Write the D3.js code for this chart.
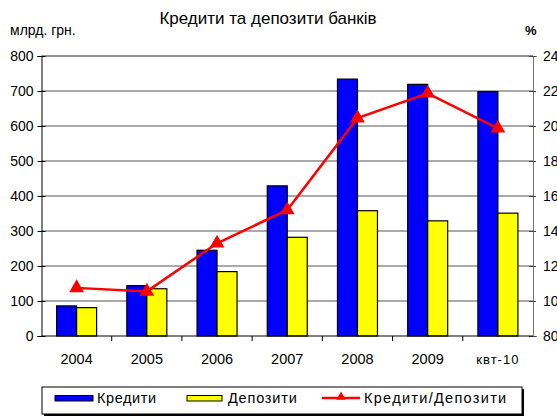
<!DOCTYPE html>
<html>
<head>
<meta charset="utf-8">
<script src="https://cdn.jsdelivr.net/npm/d3@7"></script>
<style>
  body { margin: 0; background: #fff; }
  svg { font-family: "Liberation Sans", Arial, sans-serif; }
</style>
</head>
<body>
<div id="chart"></div>
<script>
let categories = ['2004', '2005', '2006', '2007', '2008', '2009', 'квт-10'];
let credits = [86, 144, 245, 429, 734, 719, 698];
let deposits = [81, 135, 184, 282, 358, 329, 351];
let ratio = [107.5, 105.5, 133, 152, 204.5, 218.7, 198.7];
let leftTicks = [0, 100, 200, 300, 400, 500, 600, 700, 800];
let rightTicks = [80, 100, 120, 140, 160, 180, 200, 220, 240];

let W = 557, H = 417;
let margin = {top: 56, right: 24, bottom: 81, left: 41.5};
let width = W - margin.left - margin.right,
    height = H - margin.top - margin.bottom;

let svg = d3.select('#chart')
  .append('svg')
    .attr('width', W)
    .attr('height', H);

svg.append('text')
  .attr('x', 268).attr('y', 24)
  .attr('text-anchor', 'middle')
  .style('font-size', '17px')
  .text('Кредити та депозити банків');

svg.append('text')
  .attr('x', 10).attr('y', 35)
  .style('font-size', '14px')
  .text('млрд. грн.');

svg.append('text')
  .attr('x', 525).attr('y', 35)
  .style('font-size', '13px')
  .style('font-weight', 'bold')
  .text('%');

let g = svg.append('g')
  .attr('transform', `translate(${margin.left},${margin.top})`);

let x = d3.scaleBand()
  .domain(categories)
  .range([0, width]);

let y = d3.scaleLinear()
  .domain([0, 800])
  .range([height, 0]);

let y2 = d3.scaleLinear()
  .domain([80, 240])
  .range([height, 0]);

// grid
g.append('g')
  .selectAll('line')
  .data(leftTicks.slice(1))
  .enter()
  .append('line')
    .attr('x1', 0).attr('x2', width)
    .attr('y1', d => y(d)).attr('y2', d => y(d))
    .attr('stroke', d => d == 800 ? '#222' : '#555')
    .attr('stroke-width', 1);

// left axis
let yAxis = g.append('g')
  .call(d3.axisLeft(y).tickValues(leftTicks).tickSize(4).tickPadding(4));
yAxis.select('.domain').attr('stroke', '#000');
yAxis.selectAll('.tick line').attr('x2', 4).attr('x1', -4).attr('stroke', '#000');
yAxis.selectAll('text').style('font-size', '14px').attr('x', -8).attr('fill', '#000');

// right axis (labels run past the edge, as in the original)
let y2Axis = g.append('g')
  .attr('transform', `translate(${width},0)`)
  .call(d3.axisRight(y2).tickValues(rightTicks).tickSize(4));
y2Axis.select('.domain').attr('stroke', '#777');
y2Axis.selectAll('.tick line').attr('x1', -4).attr('x2', 3).attr('stroke', '#444');
y2Axis.selectAll('text').style('font-size', '14px').attr('x', 10).attr('fill', '#000');

// bars
let bw = 20;
let groups = g.append('g')
  .selectAll('g')
  .data(categories)
  .enter()
  .append('g')
    .attr('transform', d => `translate(${x(d) + x.bandwidth() / 2},0)`);

groups.append('rect')
  .attr('x', -bw)
  .attr('y', (d, i) => y(credits[i]))
  .attr('width', bw)
  .attr('height', (d, i) => height - y(credits[i]))
  .attr('fill', '#0000ff')
  .attr('stroke', '#000')
  .attr('stroke-width', 1.2);

groups.append('rect')
  .attr('x', 0)
  .attr('y', (d, i) => y(deposits[i]))
  .attr('width', bw)
  .attr('height', (d, i) => height - y(deposits[i]))
  .attr('fill', '#ffff00')
  .attr('stroke', '#000')
  .attr('stroke-width', 1.2);

// x axis
g.append('line')
  .attr('x1', 0).attr('x2', width)
  .attr('y1', height).attr('y2', height)
  .attr('stroke', '#000');

g.append('g')
  .selectAll('line')
  .data(categories.slice(1))
  .enter()
  .append('line')
    .attr('x1', d => x(d)).attr('x2', d => x(d))
    .attr('y1', height).attr('y2', height + 5)
    .attr('stroke', '#000');

g.append('g')
  .selectAll('text')
  .data(categories)
  .enter()
  .append('text')
    .attr('x', d => x(d) + x.bandwidth() / 2)
    .attr('y', height + 27.5)
    .attr('text-anchor', 'middle')
    .style('font-size', d => d == 'квт-10' ? '13px' : '14.5px')
    .style('letter-spacing', d => d == 'квт-10' ? '1px' : null)
    .text(d => d);

// ratio line
let line = d3.line()
  .x((d, i) => x(categories[i]) + x.bandwidth() / 2)
  .y(d => y2(d));

g.append('path')
  .datum(ratio)
  .attr('d', line)
  .attr('fill', 'none')
  .attr('stroke', '#ff0000')
  .attr('stroke-width', 2.5);

g.append('g')
  .selectAll('path')
  .data(ratio)
  .enter()
  .append('path')
    .attr('transform', (d, i) => `translate(${x(categories[i]) + x.bandwidth() / 2},${y2(d)})`)
    .attr('d', d3.symbol().type(d3.symbolTriangle).size(95))
    .attr('fill', '#ff0000');

// legend
let lg = svg.append('g');
lg.append('rect')
  .attr('x', 44).attr('y', 389).attr('width', 480).attr('height', 27)
  .attr('fill', '#000');
lg.append('rect')
  .attr('x', 42).attr('y', 387).attr('width', 480).attr('height', 27)
  .attr('fill', '#fff').attr('stroke', '#000');

lg.append('rect')
  .attr('x', 55).attr('y', 395.5).attr('width', 38).attr('height', 5.5)
  .attr('fill', '#0000ff').attr('stroke', '#000');
lg.append('text')
  .attr('x', 97).attr('y', 402.5).style('font-size', '14.5px')
  .style('letter-spacing', '0.6px')
  .text('Кредити');

lg.append('rect')
  .attr('x', 187).attr('y', 395.5).attr('width', 35).attr('height', 5.5)
  .attr('fill', '#ffff00').attr('stroke', '#000');
lg.append('text')
  .attr('x', 228).attr('y', 402.5).style('font-size', '14.5px')
  .style('letter-spacing', '0.8px')
  .text('Депозити');

lg.append('line')
  .attr('x1', 322).attr('x2', 360).attr('y1', 398).attr('y2', 398)
  .attr('stroke', '#ff0000').attr('stroke-width', 2.5);
lg.append('path')
  .attr('transform', 'translate(341,397)')
  .attr('d', d3.symbol().type(d3.symbolTriangle).size(40))
  .attr('fill', '#ff0000');
lg.append('text')
  .attr('x', 364).attr('y', 402.5).style('font-size', '14.5px')
  .style('letter-spacing', '1.3px')
  .text('Кредити/Депозити');
</script>
</body>
</html>
